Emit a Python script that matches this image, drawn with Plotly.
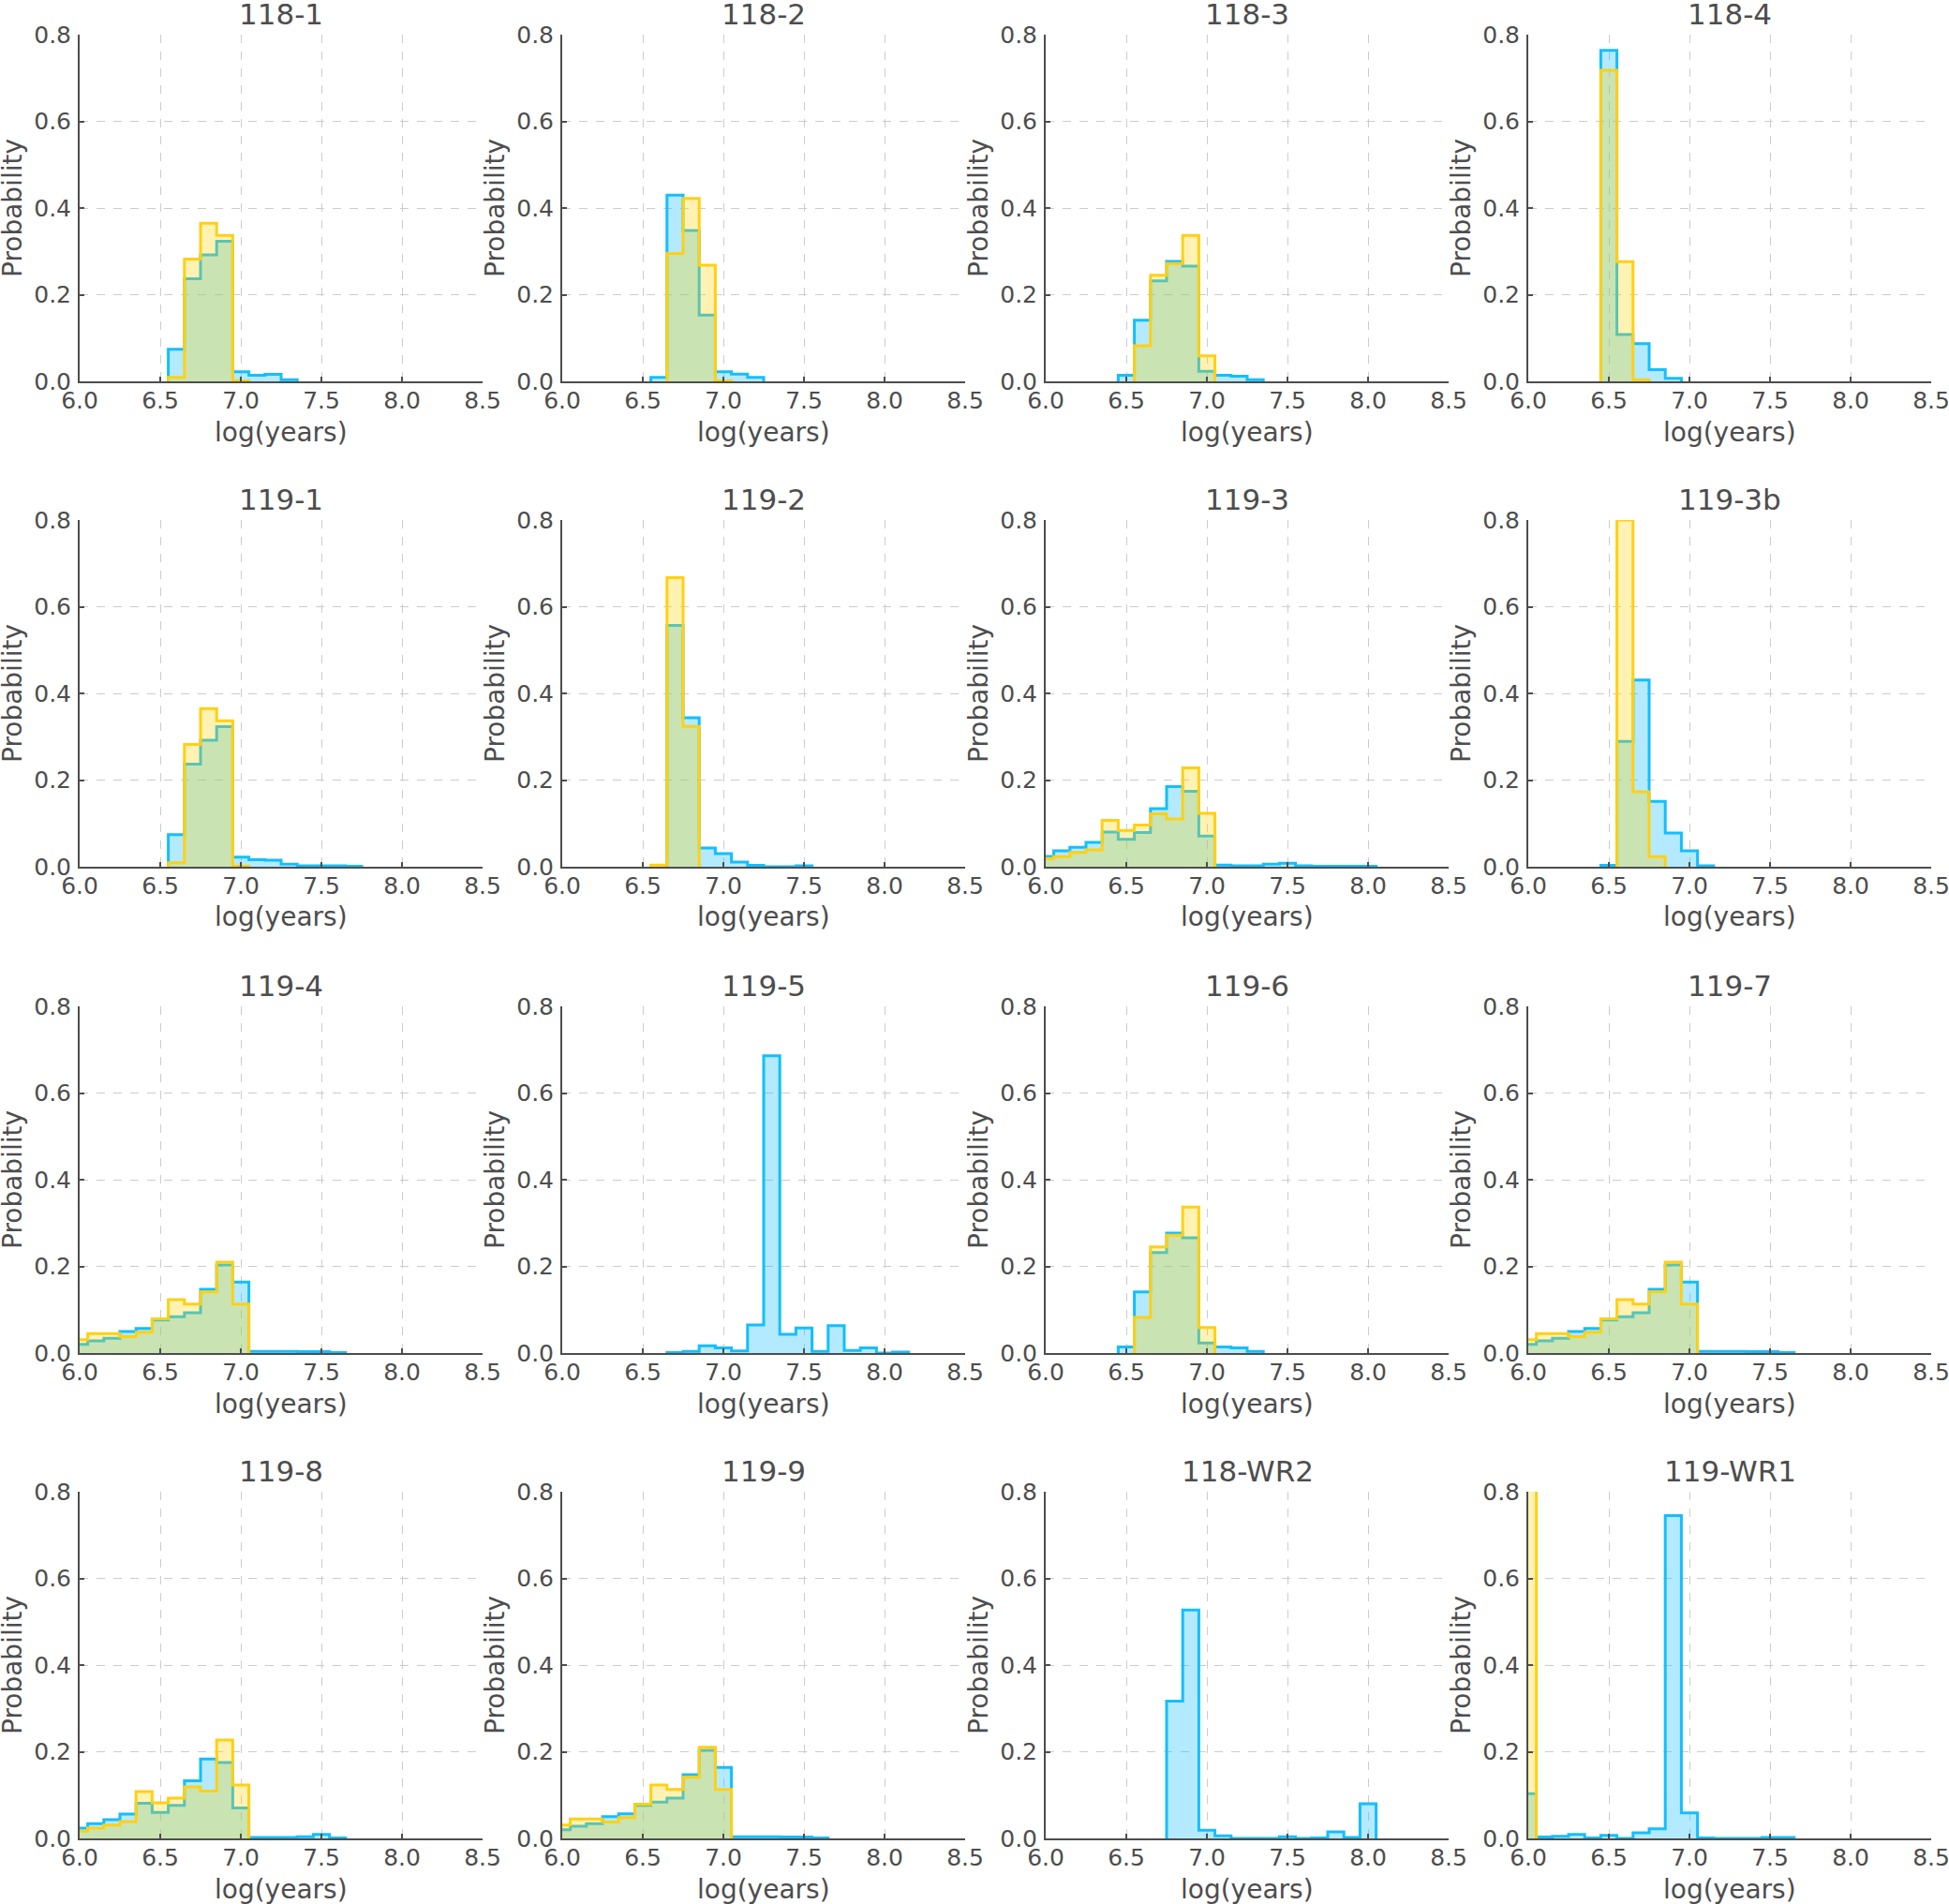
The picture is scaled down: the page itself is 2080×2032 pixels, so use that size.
import plotly.graph_objects as go

# bin centres of the log(age) histograms, bins are 0.1 wide
bin_centers = [6.0, 6.1, 6.2, 6.3, 6.4, 6.5, 6.6, 6.7, 6.8, 6.9, 7.0,
               7.1, 7.2, 7.3, 7.4, 7.5, 7.6, 7.7, 7.8, 7.9, 8.0, 8.1]

# probabilities per bin (blue = first model, gold = second model)
blue_118_1 = [0, 0, 0, 0, 0, 0, 0.074, 0.237, 0.292, 0.323, 0.022,
              0.014, 0.016, 0.004, 0, 0, 0, 0, 0, 0, 0, 0]
gold_118_1 = [0, 0, 0, 0, 0, 0, 0.009, 0.282, 0.365, 0.337, 0.001,
              0, 0, 0, 0, 0, 0, 0, 0, 0, 0, 0]

blue_118_2 = [0, 0, 0, 0, 0, 0, 0.009, 0.430, 0.348, 0.153, 0.022,
              0.017, 0.009, 0, 0, 0, 0, 0, 0, 0, 0, 0]
gold_118_2 = [0, 0, 0, 0, 0, 0, 0, 0.295, 0.422, 0.268, 0.001,
              0, 0, 0, 0, 0, 0, 0, 0, 0, 0, 0]

blue_118_3 = [0, 0, 0, 0, 0, 0.014, 0.141, 0.232, 0.277, 0.266, 0.023,
              0.014, 0.012, 0.004, 0, 0, 0, 0, 0, 0, 0, 0]
gold_118_3 = [0, 0, 0, 0, 0, 0, 0.082, 0.245, 0.272, 0.337, 0.059,
              0, 0, 0, 0, 0, 0, 0, 0, 0, 0, 0]

blue_118_4 = [0, 0, 0, 0, 0, 0.764, 0.108, 0.087, 0.027, 0.007, 0,
              0, 0, 0, 0, 0, 0, 0, 0, 0, 0, 0]
gold_118_4 = [0, 0, 0, 0, 0, 0.718, 0.276, 0.004, 0, 0, 0,
              0, 0, 0, 0, 0, 0, 0, 0, 0, 0, 0]

blue_119_1 = [0, 0, 0, 0, 0, 0, 0.074, 0.237, 0.292, 0.323, 0.022,
              0.016, 0.015, 0.006, 0.002, 0.002, 0.002, 0.001, 0, 0, 0, 0]
gold_119_1 = [0, 0, 0, 0, 0, 0, 0.009, 0.282, 0.365, 0.337, 0.001,
              0, 0, 0, 0, 0, 0, 0, 0, 0, 0, 0]

blue_119_2 = [0, 0, 0, 0, 0, 0, 0, 0.557, 0.344, 0.043, 0.030,
              0.011, 0.003, 0, 0, 0.002, 0, 0, 0, 0, 0, 0]
gold_119_2 = [0, 0, 0, 0, 0, 0, 0.004, 0.667, 0.324, 0, 0,
              0, 0, 0, 0, 0, 0, 0, 0, 0, 0, 0]

blue_119_3 = [0.024, 0.037, 0.045, 0.056, 0.080, 0.063, 0.079, 0.134, 0.185, 0.174, 0.071,
              0.004, 0.002, 0.002, 0.006, 0.008, 0.002, 0.001, 0.001, 0.001, 0.001, 0]
gold_119_3 = [0.019, 0.023, 0.033, 0.039, 0.107, 0.084, 0.096, 0.122, 0.110, 0.228, 0.123,
              0, 0, 0, 0, 0, 0, 0, 0, 0, 0, 0]

blue_119_3b = [0, 0, 0, 0, 0, 0.003, 0.289, 0.431, 0.151, 0.078, 0.037,
               0.002, 0, 0, 0, 0, 0, 0, 0, 0, 0, 0]
gold_119_3b = [0, 0, 0, 0, 0, 0, 0.800, 0.173, 0.023, 0, 0,
               0, 0, 0, 0, 0, 0, 0, 0, 0, 0, 0]

blue_119_4 = [0.020, 0.028, 0.034, 0.050, 0.057, 0.076, 0.084, 0.093, 0.147, 0.203, 0.164,
              0.004, 0.004, 0.004, 0.003, 0.003, 0.001, 0, 0, 0, 0, 0]
gold_119_4 = [0.031, 0.045, 0.045, 0.038, 0.048, 0.079, 0.123, 0.113, 0.141, 0.210, 0.113,
              0, 0, 0, 0, 0, 0, 0, 0, 0, 0, 0]

blue_119_5 = [0, 0, 0, 0, 0, 0, 0, 0.001, 0.004, 0.017, 0.012,
              0.005, 0.065, 0.686, 0.043, 0.058, 0.004, 0.063, 0.006, 0.012, 0, 0.002]
gold_119_5 = [0, 0, 0, 0, 0, 0, 0, 0, 0, 0, 0,
              0, 0, 0, 0, 0, 0, 0, 0, 0, 0, 0]

blue_119_6 = [0, 0, 0, 0, 0, 0.014, 0.141, 0.232, 0.277, 0.266, 0.023,
              0.014, 0.012, 0.004, 0, 0, 0, 0, 0, 0, 0, 0]
gold_119_6 = [0, 0, 0, 0, 0, 0, 0.082, 0.245, 0.272, 0.337, 0.059,
              0, 0, 0, 0, 0, 0, 0, 0, 0, 0, 0]

blue_119_7 = [0.020, 0.028, 0.034, 0.050, 0.057, 0.076, 0.084, 0.093, 0.147, 0.203, 0.164,
              0.004, 0.004, 0.004, 0.003, 0.003, 0.001, 0, 0, 0, 0, 0]
gold_119_7 = [0.031, 0.045, 0.045, 0.038, 0.048, 0.079, 0.123, 0.113, 0.141, 0.210, 0.113,
              0, 0, 0, 0, 0, 0, 0, 0, 0, 0, 0]

blue_119_8 = [0.024, 0.034, 0.043, 0.056, 0.081, 0.060, 0.076, 0.133, 0.183, 0.175, 0.070,
              0.002, 0.002, 0.002, 0.004, 0.009, 0.001, 0, 0, 0, 0, 0]
gold_119_8 = [0.017, 0.024, 0.031, 0.039, 0.108, 0.082, 0.093, 0.119, 0.109, 0.227, 0.123,
              0, 0, 0, 0, 0, 0, 0, 0, 0, 0, 0]

blue_119_9 = [0.020, 0.028, 0.034, 0.050, 0.057, 0.076, 0.084, 0.093, 0.147, 0.203, 0.164,
              0.004, 0.004, 0.004, 0.003, 0.003, 0.001, 0, 0, 0, 0, 0]
gold_119_9 = [0.031, 0.045, 0.045, 0.038, 0.048, 0.079, 0.123, 0.113, 0.141, 0.210, 0.113,
              0, 0, 0, 0, 0, 0, 0, 0, 0, 0, 0]

blue_118_wr2 = [0, 0, 0, 0, 0, 0, 0, 0, 0.317, 0.527, 0.019,
                0.006, 0, 0, 0, 0.004, 0, 0.001, 0.015, 0.002, 0.080, 0]
gold_118_wr2 = [0, 0, 0, 0, 0, 0, 0, 0, 0, 0, 0,
                0, 0, 0, 0, 0, 0, 0, 0, 0, 0, 0]

blue_119_wr1 = [0.103, 0.003, 0.005, 0.009, 0.001, 0.007, 0, 0.013, 0.022, 0.745, 0.059,
                0.001, 0, 0, 0, 0.002, 0.002, 0, 0, 0, 0, 0]
gold_119_wr1 = [1.0, 0, 0, 0, 0, 0, 0, 0, 0, 0, 0,
                0, 0, 0, 0, 0, 0, 0, 0, 0, 0, 0]

panel_titles = ["118-1", "118-2", "118-3", "118-4",
                "119-1", "119-2", "119-3", "119-3b",
                "119-4", "119-5", "119-6", "119-7",
                "119-8", "119-9", "118-WR2", "119-WR1"]
panel_blue = [blue_118_1, blue_118_2, blue_118_3, blue_118_4,
              blue_119_1, blue_119_2, blue_119_3, blue_119_3b,
              blue_119_4, blue_119_5, blue_119_6, blue_119_7,
              blue_119_8, blue_119_9, blue_118_wr2, blue_119_wr1]
panel_gold = [gold_118_1, gold_118_2, gold_118_3, gold_118_4,
              gold_119_1, gold_119_2, gold_119_3, gold_119_3b,
              gold_119_4, gold_119_5, gold_119_6, gold_119_7,
              gold_119_8, gold_119_9, gold_118_wr2, gold_119_wr1]

x_ticks = [6.0, 6.5, 7.0, 7.5, 8.0, 8.5]
y_ticks = [0.0, 0.2, 0.4, 0.6, 0.8]

W, H = 2080, 2032
col_left = [85, 600, 1116, 1631]     # pixel position of x=6.0
row_top = [37, 555, 1074, 1592]      # pixel position of y=0.8
plot_w, plot_h = 430, 370

text_col = "#4d4d4d"
font_fam = "DejaVu Sans"

blue_line = "rgb(20,190,255)"
blue_fill = "rgba(20,190,255,0.32)"
gold_line = "rgb(255,208,20)"
gold_fill = "rgba(255,212,0,0.30)"


def step_xy(vals):
    # outline of a filled step histogram
    nz = [i for i, v in enumerate(vals) if v > 0]
    if not nz:
        return None, None
    i0, i1 = nz[0], nz[-1]
    xs = [bin_centers[i0] - 0.05]
    ys = [0]
    for i in range(i0, i1 + 1):
        xs.append(round(bin_centers[i] - 0.05, 3))
        ys.append(vals[i])
    xs.append(round(bin_centers[i1] + 0.05, 3))
    ys.append(0)
    return xs, ys


def px_x(p):
    return p / W


def px_y(p):
    return 1 - p / H


fig = go.Figure()
annotations = []
axes = {}

for k, title in enumerate(panel_titles):
    r, c = k // 4, k % 4
    sfx = "" if k == 0 else str(k + 1)
    x0 = col_left[c]
    y0 = row_top[r]

    for vals, lc, fc in [(panel_blue[k], blue_line, blue_fill),
                         (panel_gold[k], gold_line, gold_fill)]:
        xs, ys = step_xy(vals)
        if xs is None:
            continue
        fig.add_trace(go.Scatter(
            x=xs, y=ys, mode="lines",
            line=dict(color=lc, width=3, shape="hv"),
            fill="tozeroy", fillcolor=fc,
            xaxis="x" + sfx, yaxis="y" + sfx,
            showlegend=False, hoverinfo="skip"))

    common = dict(
        showgrid=True, gridcolor="#cccccc", gridwidth=1, griddash="dash",
        showline=True, linecolor=text_col, linewidth=2,
        ticks="inside", ticklen=5, tickwidth=2, tickcolor=text_col,
        tickfont=dict(family=font_fam, size=25, color=text_col),
        tickformat=".1f", zeroline=False, layer="above traces",
        automargin=False, fixedrange=True, ticklabeloverflow="allow")
    axes["xaxis" + sfx] = dict(
        common, domain=[px_x(x0), px_x(x0 + plot_w)], range=[6.0, 8.5],
        tickvals=x_ticks, anchor="y" + sfx, ticklabelstandoff=-3)
    axes["yaxis" + sfx] = dict(
        common, domain=[px_y(y0 + plot_h), px_y(y0)], range=[0, 0.8],
        tickvals=y_ticks, anchor="x" + sfx, ticklabelstandoff=2)

    # panel title and axis labels
    annotations.append(dict(
        text=title, x=px_x(x0 + plot_w / 2), y=px_y(y0 - 22),
        xref="paper", yref="paper", xanchor="center", yanchor="middle",
        showarrow=False, font=dict(family=font_fam, size=31, color=text_col)))
    annotations.append(dict(
        text="log(years)", x=px_x(x0 + plot_w / 2), y=px_y(y0 + plot_h + 54),
        xref="paper", yref="paper", xanchor="center", yanchor="middle",
        showarrow=False, font=dict(family=font_fam, size=28, color=text_col)))
    annotations.append(dict(
        text="Probability", x=px_x(x0 - 72), y=px_y(y0 + plot_h / 2),
        xref="paper", yref="paper", xanchor="center", yanchor="middle",
        textangle=-90, showarrow=False,
        font=dict(family=font_fam, size=28, color=text_col)))

fig.update_layout(
    width=W, height=H, autosize=False,
    margin=dict(l=0, r=0, t=0, b=0, autoexpand=False),
    paper_bgcolor="white", plot_bgcolor="white",
    annotations=annotations, showlegend=False,
    **axes)

# drop the default page margin so the figure fills the window
fig.write_html("out.html", config={"displayModeBar": False},
               post_script="document.body.style.margin='0px';")
